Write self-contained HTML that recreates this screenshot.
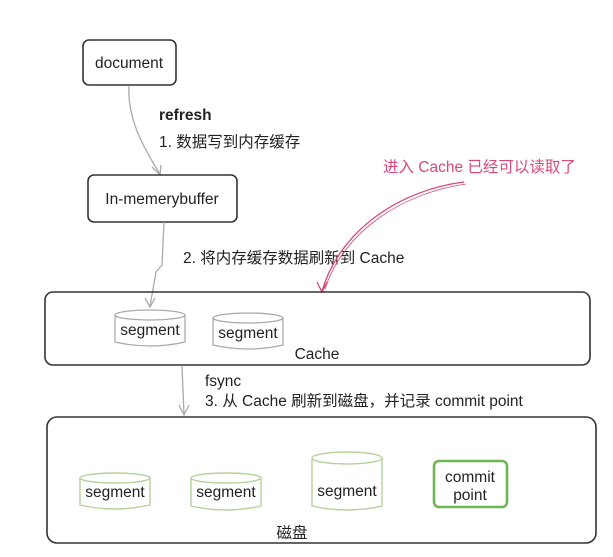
<!DOCTYPE html>
<html><head><meta charset="utf-8"><style>
html,body{margin:0;padding:0;background:#fff;width:613px;height:557px;overflow:hidden}
svg text{font-family:"Liberation Sans","Noto Sans CJK SC",sans-serif;font-size:15.5px;fill:#222}
</style></head><body>
<svg width="613" height="557" viewBox="0 0 613 557" xmlns="http://www.w3.org/2000/svg">
<!-- document -->
<rect x="83" y="40" width="93" height="45" rx="6" fill="none" stroke="#333" stroke-width="1.6"/>
<text x="129" y="68" text-anchor="middle">document</text>
<!-- arrow 1 -->
<path d="M129 86 C127 120,145 150,160 174" fill="none" stroke="#aaa" stroke-width="1.3"/>
<path d="M152 167 L160 175 L161 165" fill="none" stroke="#aaa" stroke-width="1.3"/>
<text x="159" y="120" font-weight="bold">refresh</text>
<text x="159" y="147">1. 数据写到内存缓存</text>
<!-- buffer -->
<rect x="88" y="175" width="149" height="47" rx="6" fill="none" stroke="#333" stroke-width="1.6"/>
<text x="162" y="204" text-anchor="middle">In-memerybuffer</text>
<!-- arrow 2 -->
<path d="M164 222 L162 265 L156 272 L150 306" fill="none" stroke="#aaa" stroke-width="1.3"/>
<path d="M145 298 L150 307 L155 298" fill="none" stroke="#aaa" stroke-width="1.3"/>
<text x="183" y="263">2. 将内存缓存数据刷新到 Cache</text>
<!-- red -->
<text x="383" y="172" style="fill:#d9487a">进入 Cache 已经可以读取了</text>
<path d="M464 182 C400 190,340 230,322 291" fill="none" stroke="#d9487a" stroke-width="1.3"/>
<path d="M466 184 C402 193,343 232,325 289" fill="none" stroke="#d9487a" stroke-width="0.8"/>
<path d="M317 282 L322 292 L327 282" fill="none" stroke="#d9487a" stroke-width="1.3"/>
<!-- Cache box -->
<rect x="45" y="292" width="545" height="73" rx="8" fill="none" stroke="#333" stroke-width="1.6"/>
<g fill="none" stroke="#aaa" stroke-width="1.3">
<ellipse cx="150" cy="315" rx="35" ry="5"/><path d="M115 315 V342 Q150 350 185 342 V315"/>
<ellipse cx="248" cy="318" rx="35" ry="5"/><path d="M213 318 V345 Q248 353 283 345 V318"/>
</g>
<text x="150" y="335" text-anchor="middle">segment</text>
<text x="248" y="338" text-anchor="middle">segment</text>
<text x="317" y="359" text-anchor="middle">Cache</text>
<!-- arrow 3 -->
<path d="M182 366 L184 414" fill="none" stroke="#aaa" stroke-width="1.3"/>
<path d="M179 405 L184 415 L189 405" fill="none" stroke="#aaa" stroke-width="1.3"/>
<text x="205" y="386">fsync</text>
<text x="205" y="406">3. 从 Cache 刷新到磁盘，并记录 commit point</text>
<!-- disk box -->
<rect x="47" y="417" width="549" height="126" rx="10" fill="none" stroke="#333" stroke-width="1.6"/>
<g fill="none" stroke="#b5d29c" stroke-width="1.4">
<ellipse cx="115" cy="478" rx="35" ry="5"/><path d="M80 478 V505 Q115 513 150 505 V478"/>
<ellipse cx="226" cy="478" rx="35" ry="5"/><path d="M191 478 V506 Q226 514 261 506 V478"/>
<ellipse cx="347" cy="458" rx="35" ry="6"/><path d="M312 458 V506 Q347 514 382 506 V458"/>
</g>
<rect x="434" y="461" width="73" height="46" rx="5" fill="none" stroke="#6fb552" stroke-width="2.6"/>
<text x="115" y="497" text-anchor="middle">segment</text>
<text x="226" y="497" text-anchor="middle">segment</text>
<text x="347" y="496" text-anchor="middle">segment</text>
<text x="470" y="482" text-anchor="middle">commit</text>
<text x="470" y="500" text-anchor="middle">point</text>
<text x="292" y="538" text-anchor="middle">磁盘</text>
</svg>
</body></html>
